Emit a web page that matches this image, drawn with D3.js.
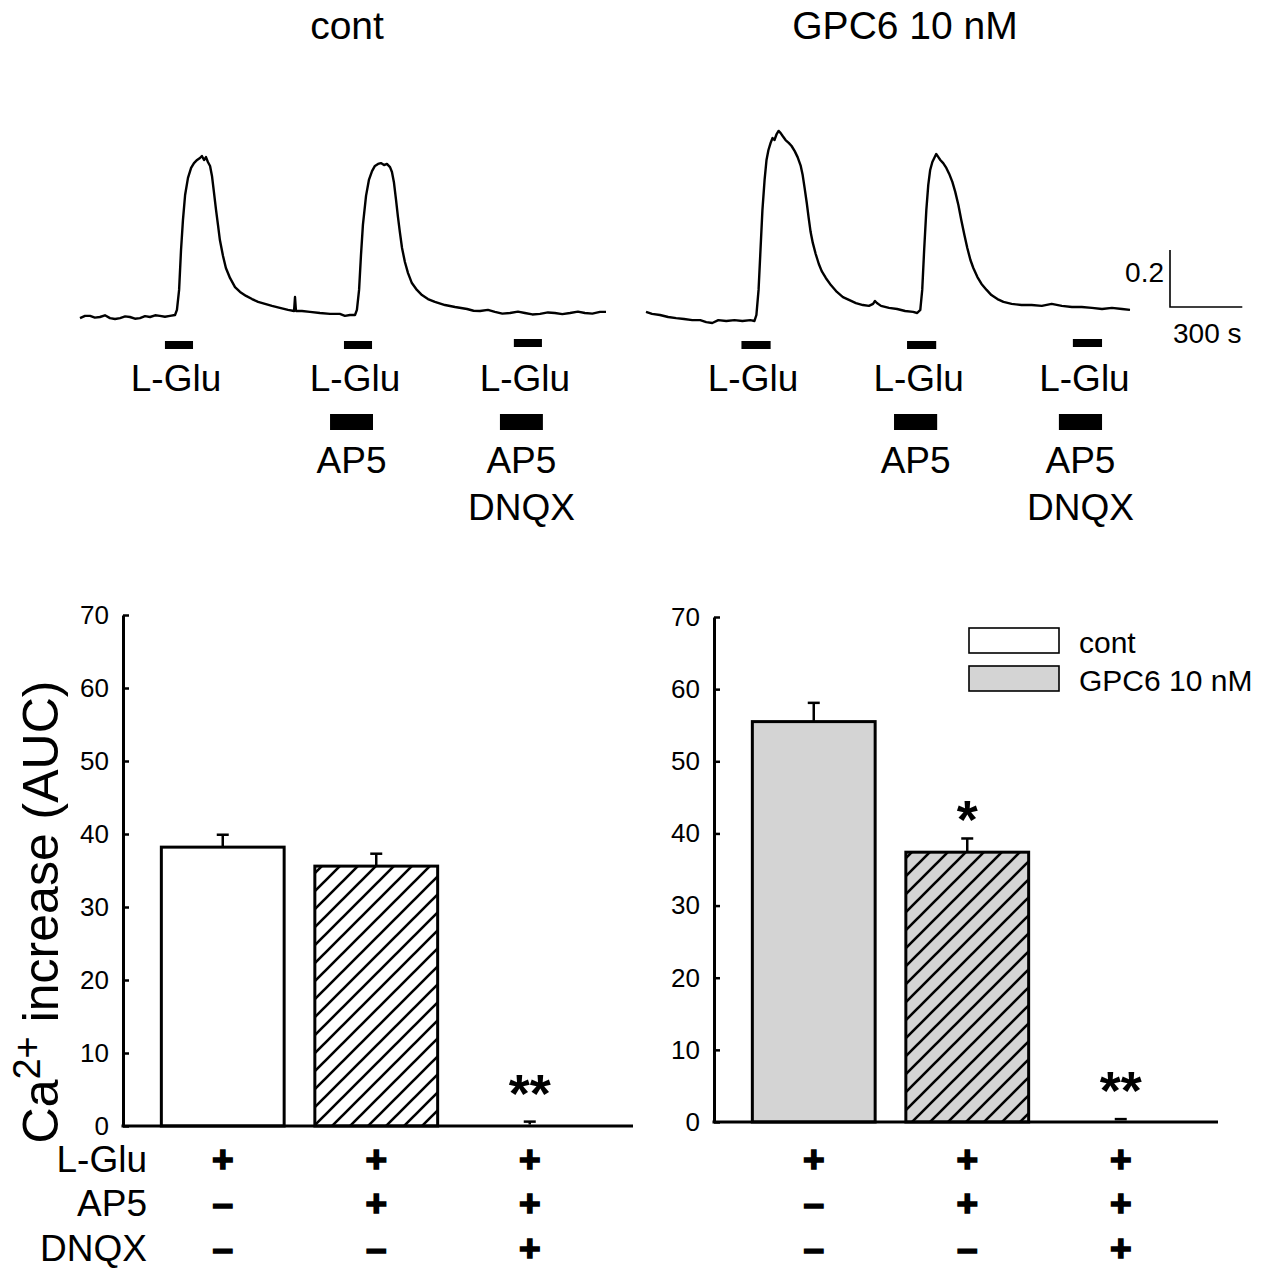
<!DOCTYPE html>
<html>
<head>
<meta charset="utf-8">
<script src="https://cdn.jsdelivr.net/npm/d3@7"></script>
<style>
  body { margin: 0; background: #fff; }
  svg { font-family: Arial, "Liberation Sans", sans-serif; }
</style>
</head>
<body>
<svg id="fig" width="1280" height="1277"></svg>
<script>
// ---- trace data (time s, ratio change) ----
var contTrace = [
  [0,-0.004],[21,0.004],[42,0.004],[62,-0.002],[83,0],[104,0.006],[125,-0.004],[146,-0.007],[167,-0.004],[188,0.002],
  [208,0],[229,-0.006],[250,-0.004],[271,0.003],[292,0],[313,0.006],[333,0.004],[354,0.001],[375,0.004],[396,0.007],
  [404,0.025],[413,0.095],[421,0.235],[429,0.340],[438,0.428],[450,0.488],[463,0.523],[475,0.540],[488,0.551],[500,0.558],
  [508,0.565],[517,0.551],[525,0.561],[533,0.544],[542,0.530],[550,0.495],[558,0.439],[567,0.375],[575,0.323],[583,0.270],
  [596,0.214],[608,0.172],[625,0.137],[646,0.105],[667,0.088],[692,0.074],[717,0.063],[742,0.053],[771,0.046],[800,0.039],
  [833,0.032],[867,0.025],[892,0.021],[896,0.070],[900,0.021],[925,0.021],[958,0.018],[1000,0.014],[1042,0.011],[1083,0.011],
  [1104,0.004],[1125,0.007],[1146,0.007],[1154,0.025],[1163,0.095],[1171,0.218],[1179,0.323],[1192,0.425],[1204,0.481],[1217,0.512],
  [1229,0.530],[1242,0.537],[1254,0.540],[1267,0.533],[1279,0.537],[1292,0.526],[1300,0.509],[1308,0.474],[1317,0.411],[1325,0.351],
  [1333,0.298],[1342,0.242],[1354,0.193],[1367,0.154],[1383,0.119],[1404,0.095],[1425,0.077],[1450,0.063],[1479,0.053],[1521,0.042],
  [1563,0.035],[1613,0.028],[1640,0.022],[1667,0.021],[1700,0.025],[1729,0.018],[1760,0.012],[1792,0.014],[1825,0.019],[1854,0.014],
  [1885,0.009],[1917,0.011],[1950,0.016],[1979,0.014],[2010,0.010],[2042,0.014],[2075,0.019],[2104,0.014],[2135,0.012],[2167,0.018],[2192,0.018]
];
var gpcTrace = [
  [0,0.018],[25,0.011],[58,0.007],[92,0],[125,-0.004],[158,-0.007],[192,-0.011],[225,-0.011],[250,-0.018],[275,-0.021],
  [300,-0.011],[333,-0.014],[367,-0.011],[400,-0.014],[433,-0.011],[450,-0.014],[458,0.007],[467,0.095],[475,0.235],[483,0.375],
  [492,0.481],[500,0.551],[508,0.586],[517,0.611],[525,0.628],[533,0.621],[542,0.642],[550,0.653],[558,0.646],[567,0.635],
  [579,0.621],[592,0.611],[604,0.600],[617,0.582],[629,0.561],[642,0.530],[650,0.498],[658,0.453],[667,0.400],[675,0.347],
  [683,0.298],[692,0.260],[704,0.221],[717,0.186],[729,0.161],[746,0.137],[767,0.112],[792,0.088],[817,0.070],[842,0.060],
  [871,0.049],[900,0.042],[925,0.039],[942,0.046],[950,0.056],[958,0.049],[975,0.039],[1008,0.032],[1042,0.028],[1075,0.021],
  [1108,0.018],[1125,0.014],[1138,0.025],[1146,0.095],[1154,0.235],[1163,0.375],[1171,0.463],[1179,0.516],[1188,0.544],[1196,0.558],
  [1204,0.572],[1213,0.561],[1221,0.551],[1233,0.540],[1246,0.523],[1258,0.502],[1271,0.474],[1283,0.439],[1296,0.393],[1308,0.340],
  [1321,0.288],[1333,0.242],[1346,0.200],[1358,0.172],[1375,0.140],[1392,0.116],[1413,0.095],[1433,0.077],[1458,0.063],[1483,0.053],
  [1517,0.046],[1558,0.042],[1600,0.042],[1642,0.039],[1683,0.046],[1725,0.039],[1767,0.035],[1808,0.035],[1850,0.032],[1892,0.028],
  [1933,0.032],[1975,0.028],[2008,0.025]
];

// drug applications [start, end] in s
var contGlu = [[354,471],[1100,1217],[1808,1925]];
var contAp5 = [[1042,1221],[1750,1929]];
var gpcGlu = [[396,517],[1083,1204],[1771,1892]];
var gpcAp5 = [[1029,1208],[1713,1892]];
var traceTitles = ["cont", "GPC6 10 nM"];

// ---- bar data ----
var groups = ["L-Glu", "L-Glu + AP5", "L-Glu + AP5 + DNQX"];
var contMeans = [38.2, 35.6, 0.2];
var contErr = [1.7, 1.7, 0.4];
var gpcMeans = [55.5, 37.4, 0.3];
var gpcErr = [2.6, 1.9, 0.1];
var contStars = ["", "", "**"];
var gpcStars = ["", "*", "**"];
var yTicks = [0, 10, 20, 30, 40, 50, 60, 70];
var rowNames = ["L-Glu", "AP5", "DNQX"];
var rowSigns = [["+", "+", "+"], ["\u2013", "+", "+"], ["\u2013", "\u2013", "+"]];
var legendNames = ["cont", "GPC6 10 nM"];

var svg = d3.select('#fig');
var defs = svg.append('defs');

function hatch(id, bg) {
  var p = defs.append('pattern').attr('id', id)
    .attr('patternUnits', 'userSpaceOnUse')
    .attr('width', 18).attr('height', 18);
  p.append('rect').attr('width', 18).attr('height', 18).attr('fill', bg);
  p.append('path').attr('d', 'M-2,2 L2,-2 M0,18 L18,0 M16,20 L20,16')
    .attr('stroke', '#000').attr('stroke-width', 2.6);
}
hatch('hatchW', '#fff');
hatch('hatchG', '#d4d4d4');

// ---------- traces ----------
function tracePanel(data, glu, ap5, x0, x1, title, titleX, withScale) {
  var tmax = data[data.length - 1][0];
  var x = d3.scaleLinear().domain([0, tmax]).range([x0, x1]);
  var y = d3.scaleLinear().domain([0, 0.2]).range([317, 260]);
  var g = svg.append('g');

  g.append('path').datum(data)
    .attr('d', d3.line().x(function(d){ return x(d[0]); }).y(function(d){ return y(d[1]); }))
    .attr('fill', 'none').attr('stroke', '#000').attr('stroke-width', 2.4)
    .attr('stroke-linejoin', 'round');

  g.append('text').attr('x', titleX).attr('y', 39)
    .attr('text-anchor', 'middle').style('font-size', '39px').text(title);

  g.selectAll('.glu').data(glu).enter().append('rect')
    .attr('x', function(d){ return x(d[0]); })
    .attr('width', function(d){ return x(d[1]) - x(d[0]); })
    .attr('y', function(d, i){ return i == 2 ? 339 : 341; })
    .attr('height', 8).attr('fill', '#000');
  g.selectAll('.glut').data(glu).enter().append('text')
    .attr('x', function(d){ return x((d[0] + d[1]) / 2) - 3; })
    .attr('y', 391).attr('text-anchor', 'middle').style('font-size', '37px')
    .text('L-Glu');

  g.selectAll('.ap5').data(ap5).enter().append('rect')
    .attr('x', function(d){ return x(d[0]); })
    .attr('width', function(d){ return x(d[1]) - x(d[0]); })
    .attr('y', 414).attr('height', 16).attr('fill', '#000');
  g.selectAll('.ap5t').data(ap5).enter().append('text')
    .attr('x', function(d){ return x((d[0] + d[1]) / 2); })
    .attr('y', 473).attr('text-anchor', 'middle').style('font-size', '37px')
    .text('AP5');
  g.append('text').attr('x', x((ap5[1][0] + ap5[1][1]) / 2))
    .attr('y', 520).attr('text-anchor', 'middle').style('font-size', '37px')
    .text('DNQX');

  if (withScale) {
    var sx = 1170, sy = 307;
    var len = x(300) - x(0), hgt = y(0) - y(0.2);
    g.append('path').attr('d', 'M' + sx + ',' + (sy - hgt) + 'V' + sy + 'H' + (sx + len))
      .attr('fill', 'none').attr('stroke', '#000').attr('stroke-width', 1.6);
    g.append('text').attr('x', sx - 6).attr('y', 282).attr('text-anchor', 'end')
      .style('font-size', '28px').text('0.2');
    g.append('text').attr('x', sx + 3).attr('y', 343)
      .style('font-size', '28px').text('300 s');
  }
}
tracePanel(contTrace, contGlu, contAp5, 80, 606, traceTitles[0], 347, false);
tracePanel(gpcTrace, gpcGlu, gpcAp5, 646, 1130, traceTitles[1], 905, true);

// ---------- bar charts ----------
function barPanel(means, errs, stars, ax, xEnd, yTop, yBot, fill, hatchId, withLabels) {
  var y = d3.scaleLinear().domain([0, 70]).range([yBot, yTop]);
  var step = 153.5;
  var x = d3.scaleBand().domain(d3.range(groups.length))
    .range([ax + 23, ax + 23 + step * 3]).paddingInner(0.2).paddingOuter(0.1);
  var g = svg.append('g');

  // error bars (upper only)
  var eb = g.selectAll('.err').data(means).enter().append('g');
  eb.append('line')
    .attr('x1', function(d, i){ return x(i) + x.bandwidth() / 2; })
    .attr('x2', function(d, i){ return x(i) + x.bandwidth() / 2; })
    .attr('y1', function(d){ return y(d); })
    .attr('y2', function(d, i){ return y(d + errs[i]); })
    .attr('stroke', '#000').attr('stroke-width', 2.5);
  eb.append('line')
    .attr('x1', function(d, i){ return x(i) + x.bandwidth() / 2 - 6; })
    .attr('x2', function(d, i){ return x(i) + x.bandwidth() / 2 + 6; })
    .attr('y1', function(d, i){ return y(d + errs[i]); })
    .attr('y2', function(d, i){ return y(d + errs[i]); })
    .attr('stroke', '#000').attr('stroke-width', 2.5);

  g.selectAll('.bar').data(means.filter(function(d){ return d >= 1; })).enter().append('rect')
    .attr('x', function(d, i){ return x(i); })
    .attr('width', x.bandwidth())
    .attr('y', function(d){ return y(d); })
    .attr('height', function(d){ return y(0) - y(d); })
    .attr('fill', function(d, i){ return i == 1 ? 'url(#' + hatchId + ')' : fill; })
    .attr('stroke', '#000').attr('stroke-width', 3);

  var axisG = g.append('g').attr('transform', 'translate(' + ax + ',0)')
    .call(d3.axisLeft(y).tickValues(yTicks).tickSizeInner(-6).tickSizeOuter(0).tickPadding(14));
  axisG.select('.domain').attr('stroke-width', 3);
  axisG.selectAll('.tick line').attr('stroke-width', 2.5);
  axisG.selectAll('.tick text').style('font-size', '26px').attr('fill', '#000');

  g.append('line').attr('x1', ax - 1.5).attr('x2', xEnd).attr('y1', y(0)).attr('y2', y(0))
    .attr('stroke', '#000').attr('stroke-width', 3);

  g.selectAll('.star').data(stars).enter().append('text')
    .attr('x', function(d, i){ return x(i) + x.bandwidth() / 2; })
    .attr('y', function(d, i){ return y(means[i] + errs[i]); })
    .attr('dy', function(d, i){ return means[i] < 1 ? -10 : 0; })
    .attr('text-anchor', 'middle').style('font-size', '54px').style('font-weight', 'bold')
    .text(function(d){ return d; });

  var rowY = [1172, 1216, 1261];
  rowSigns.forEach(function(row, r) {
    g.selectAll('.s' + r).data(row).enter().append('text')
      .attr('x', function(d, i){ return x(i) + x.bandwidth() / 2; })
      .attr('y', rowY[r])
      .attr('text-anchor', 'middle').style('font-size', '37px').style('font-weight', 'bold')
      .attr('stroke', '#000').attr('stroke-width', 1.6)
      .text(function(d){ return d; });
    if (withLabels) {
      g.append('text').attr('x', 147).attr('y', rowY[r]).attr('text-anchor', 'end')
        .style('font-size', '37px').text(rowNames[r]);
    }
  });
  return g;
}

barPanel(contMeans, contErr, contStars, 123, 633, 615, 1126, '#fff', 'hatchW', true);
barPanel(gpcMeans, gpcErr, gpcStars, 714, 1218, 617, 1122, '#d4d4d4', 'hatchG', false);

// y axis title
var yt = svg.append('text').attr('transform', 'translate(58,912) rotate(-90)')
  .attr('text-anchor', 'middle').style('font-size', '50px');
yt.append('tspan').text('Ca');
yt.append('tspan').attr('dy', -18).style('font-size', '38px').text('2+');
yt.append('tspan').attr('dy', 18).text(' increase (AUC)');

// legend
var leg = svg.append('g').attr('transform', 'translate(969,628)');
var li = leg.selectAll('g').data(legendNames).enter().append('g')
  .attr('transform', function(d, i){ return 'translate(0,' + i * 38 + ')'; });
li.append('rect').attr('width', 90).attr('height', 25)
  .attr('fill', function(d, i){ return i ? '#d4d4d4' : '#fff'; })
  .attr('stroke', '#000').attr('stroke-width', 1.6);
li.append('text').attr('x', 110).attr('y', 25).style('font-size', '30px')
  .text(function(d){ return d; });
</script>
</body>
</html>
